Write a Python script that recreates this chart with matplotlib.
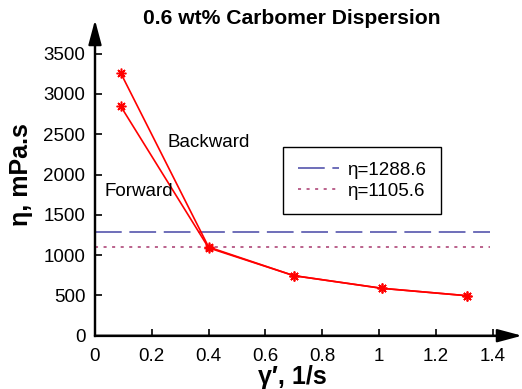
import numpy as np
import matplotlib
matplotlib.use("Agg")
import matplotlib.pyplot as plt

plt.rcParams['font.family'] = ['Liberation Sans', 'DejaVu Sans']

# shear rate, 1/s
rate_fwd = [0.09, 0.40, 0.70, 1.01, 1.31]
eta_fwd = [2850, 1090, 745, 588, 496]
rate_bwd = [0.09, 0.40, 0.70, 1.01, 1.31]
eta_bwd = [3263, 1100, 745, 588, 496]

eta_fit_1 = 1288.6
eta_fit_2 = 1105.6
fit_span = [0.0, 1.39]

x_ticks = [0, 0.2, 0.4, 0.6, 0.8, 1, 1.2, 1.4]
x_ticklabels = ["0", "0.2", "0.4", "0.6", "0.8", "1", "1.2", "1.4"]
y_ticks = [0, 500, 1000, 1500, 2000, 2500, 3000, 3500]

W, H = 522, 389
fig = plt.figure(figsize=(W / 100, H / 100), dpi=100)
ax = fig.add_axes([95 / W, (H - 335.7) / H, 407 / W, 293.7 / H])

ax.plot(fit_span, [eta_fit_1] * 2, color="#4646a6", lw=1.1,
        dashes=(17.5, 5), label="η=1288.6")
ax.plot(fit_span, [eta_fit_2] * 2, color="#a8386e", lw=1.1,
        dashes=(2, 3.6), label="η=1105.6")

star = (8, 2, 0)
ax.plot(rate_fwd, eta_fwd, color="red", lw=1.2, marker=star, ms=7, mew=1.1)
ax.plot(rate_bwd, eta_bwd, color="red", lw=1.2, marker=star, ms=7, mew=1.1)

ax.set_xlim(0, 1.433)
ax.set_ylim(0, 3644)
ax.set_xticks(x_ticks)
ax.set_xticklabels(x_ticklabels)
ax.set_yticks(y_ticks)
ax.tick_params(direction="in", length=5, width=1.2, labelsize=13.5)
ax.tick_params(axis="x", pad=9)
ax.tick_params(axis="y", pad=7)

for side in ["top", "right"]:
    ax.spines[side].set_visible(False)
for side in ["left", "bottom"]:
    ax.spines[side].set_linewidth(1.6)

# arrow heads at the ends of the axes, drawn over the spines
head = "-|>,head_length=1.5,head_width=0.4"
ax.annotate("", xy=(1 + 20 / 407, 0), xytext=(0, 0), xycoords="axes fraction",
            arrowprops=dict(arrowstyle=head, color="black", lw=1.6,
                            shrinkA=0, shrinkB=0), annotation_clip=False)
ax.annotate("", xy=(0, 1 + 22 / 293.7), xytext=(0, 0), xycoords="axes fraction",
            arrowprops=dict(arrowstyle=head, color="black", lw=1.6,
                            shrinkA=0, shrinkB=0), annotation_clip=False)

ax.text(0.254, 2403, "Backward", fontsize=13.5, va="center")
ax.text(0.035, 1783, "Forward", fontsize=13.5, va="center")

fig.text(292 / W, 1 - 18 / H, "0.6 wt% Carbomer Dispersion", fontsize=15.2,
         fontweight="bold", ha="center", va="center")
ax.set_xlabel("γ′, 1/s", fontsize=18, fontweight="bold")
ax.set_ylabel("η, mPa.s", fontsize=18, fontweight="bold")
ax.xaxis.set_label_coords(0.486, -0.1)
ax.yaxis.set_label_coords(-0.152, 0.55)

leg = ax.legend(loc="upper left", bbox_to_anchor=(283 / W, 1 - 147 / H),
                bbox_transform=fig.transFigure, borderaxespad=0, fontsize=13.5,
                frameon=True, fancybox=False, edgecolor="black", framealpha=1,
                handlelength=2.2, handletextpad=0.45, labelspacing=0.2,
                borderpad=0.78)
leg.get_frame().set_linewidth(1.0)

fig.savefig("out.png", dpi=100)
